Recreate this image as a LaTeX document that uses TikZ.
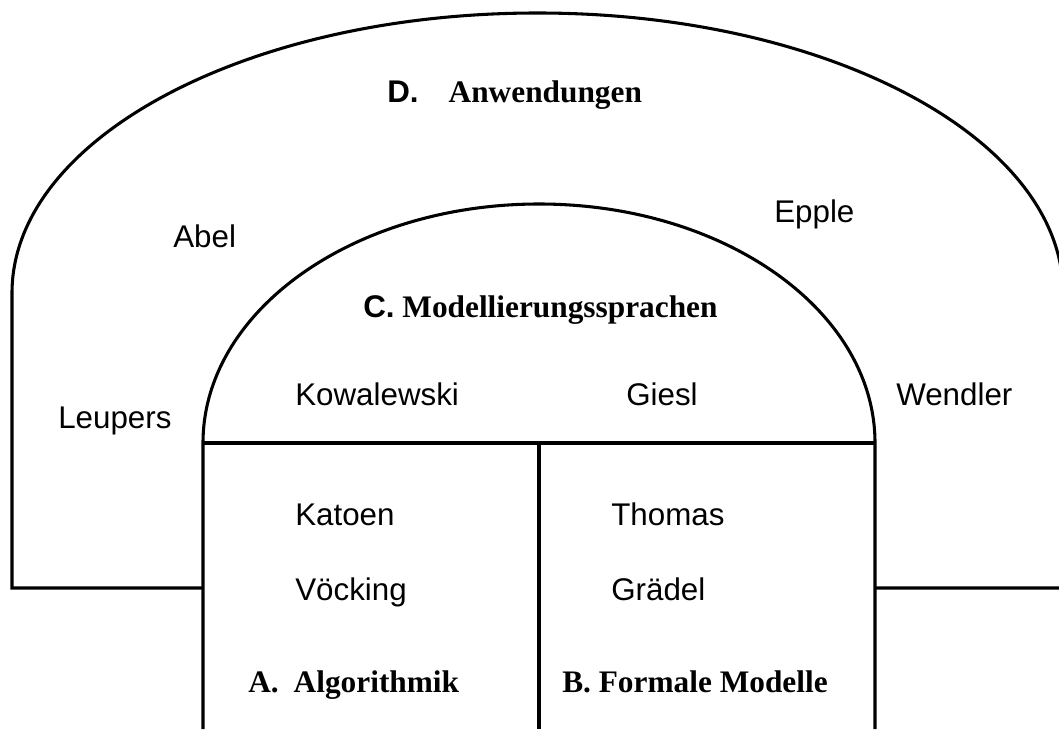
\documentclass[tikz,border=0pt]{standalone}
\usepackage{fontspec}
\setmainfont{Liberation Serif}
\newfontfamily\arialf{Liberation Sans}
\begin{document}
\begin{tikzpicture}[x=0.75pt,y=0.75pt,
  wall/.style={line width=2.3pt, line join=miter},
  person/.style={anchor=base west, inner sep=0pt, font=\arialf\fontsize{23.5}{28}\selectfont},
  heading/.style={anchor=base west, inner sep=0pt, font=\bfseries\fontsize{23.5}{28}\selectfont}]
\useasboundingbox (0,0) rectangle (1059,729);
\clip (0,0) rectangle (1059,729);
% key points
\coordinate (oL) at (12,141);
\coordinate (oLt) at (12,436);
\coordinate (oRt) at (1063,436);
\coordinate (oR) at (1063,141);
\coordinate (iL) at (203,286);
\coordinate (iM) at (539,286);
\coordinate (iR) at (875,286);
\coordinate (iLb) at (203,0);
\coordinate (iMb) at (539,0);
\coordinate (iRb) at (875,0);
\coordinate (hL) at (203,141);
\coordinate (hR) at (875,141);
% outer arch D
\draw[wall] (hL) -- (oL) -- (oLt) arc[start angle=180, end angle=0, x radius=525.5, y radius=280] -- (oR) -- (hR);
% inner arch C
\draw[wall] (iLb) -- (iL) arc[start angle=180, end angle=0, x radius=336, y radius=239] -- (iRb);
\draw[wall] (iL) -- (iR);
\draw[wall] (iM) -- (iMb);
% headings
\node[heading] (D) at (387,626) {{\arialf D.}\hspace{0.96em}Anwendungen};
\node[heading] (C) at (363,411) {{\arialf C.} Modellierungssprachen};
\node[heading] (A) at (248,37) {A.\hspace{0.48em}Algorithmik};
\node[heading] (B) at (562,37) {B. Formale Modelle};
% names
\node[person] (abel) at (173,481) {Abel};
\node[person] (epple) at (774,506) {Epple};
\node[person] (leupers) at (58,301) {Leupers};
\node[person] (kowalewski) at (295,324) {Kowalewski};
\node[person] (giesl) at (626,324) {Giesl};
\node[person] (wendler) at (896,324) {Wendler};
\node[person] (katoen) at (295,204) {Katoen};
\node[person] (thomas) at (611,204) {Thomas};
\node[person] (voecking) at (295,129) {Vöcking};
\node[person] (graedel) at (611,129) {Grädel};
\end{tikzpicture}
\end{document}
